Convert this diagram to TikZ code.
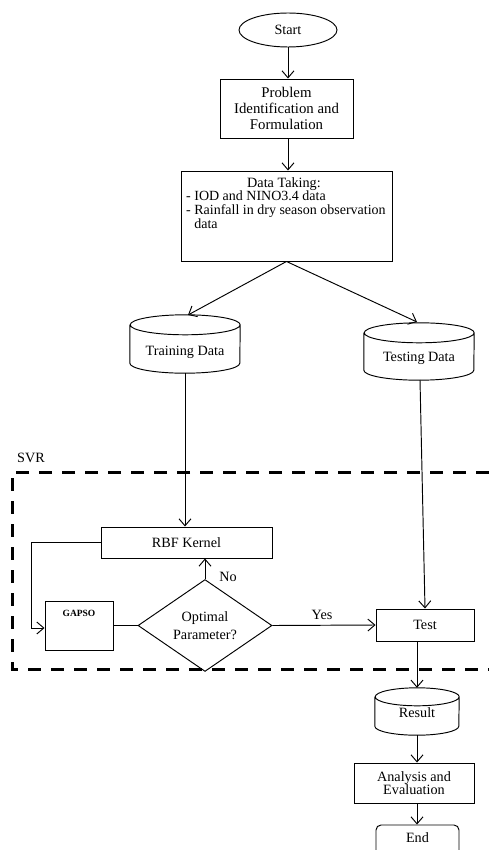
\documentclass[tikz,border=0pt]{standalone}
\usepackage{fontspec}
\setmainfont{Liberation Serif}
\usetikzlibrary{arrows.meta,shapes.geometric}

% outline of a vertical drum (database symbol) around a named rectangle
\newcommand{\drumoutline}[3]{% #1 node name, #2 half width, #3 half height of the end ellipses
  \draw[line] ([yshift=-#3pt]#1.north west) -- ([yshift=#3pt]#1.south west)
    arc[start angle=180,end angle=360,x radius=#2,y radius=#3]
    -- ([yshift=-#3pt]#1.north east)
    arc[start angle=0,end angle=360,x radius=#2,y radius=#3];}

\begin{document}
\begin{tikzpicture}[x=1pt,y=1pt,
  line/.style={line width=0.95pt},
  arr/.style={line, -{Straight Barb[length=7pt,width=12pt,line width=0.95pt]}},
  txt/.style={font=\fontsize{14.2}{16}\selectfont, inner sep=0pt},
  box/.style={line, draw, rectangle, inner sep=0pt},
  drum/.style={rectangle, inner sep=0pt},
]
\useasboundingbox (0,0) rectangle (489,-850);
\clip (0,0) rectangle (489,-850);

% terminal and first steps
\node[line, draw, ellipse, inner sep=0pt, minimum width=98pt, minimum height=34pt,
      txt] (start) at (288,-30) {Start};
\node[box, minimum width=133pt, minimum height=59pt, align=center,
      font=\fontsize{14.8}{16}\selectfont] (prob) at (286.5,-108.5)
      {Problem\\Identification and\\Formulation};
\node[box, minimum width=211pt, minimum height=90pt] (data) at (286.5,-216) {};
\node[txt] (datatitle) at (284,-184) {Data Taking:};
\node[txt, anchor=north west, align=left, font=\fontsize{14}{14}\selectfont]
      (datalist) at (186,-191)
      {- IOD and NINO3.4 data\\- Rainfall in dry season observation\\\phantom{- }data};

% data stores
\node[drum, minimum width=110pt, minimum height=58pt] (train) at (185,-344) {};
\node[txt] (trainlbl) at (185,-352) {Training Data};
\node[drum, minimum width=110pt, minimum height=57pt] (testdata) at (419,-351.5) {};
\node[txt] (testlbl) at (419,-358) {Testing Data};
\drumoutline{train}{55}{10}
\drumoutline{testdata}{55}{10}

% SVR stage
\node[txt] (svr) at (31,-458) {SVR};
\coordinate (svrtr) at (489,-472);
\coordinate (svrbl) at (12,-669);
\draw[line width=3pt, dash pattern=on 13pt off 10pt] (svrtr) -| (svrbl) -- (svrbl -| svrtr);

\node[box, minimum width=171pt, minimum height=31pt, txt] (rbf) at (186.5,-542.5) {RBF Kernel};
\node[box, minimum width=68pt, minimum height=49pt] (gapso) at (79,-625.5) {};
\node[font=\fontsize{9.5}{10}\selectfont\bfseries, inner sep=0pt] (gapsolbl) at (79,-613) {GAPSO};
\node[line, draw, diamond, inner sep=0pt, minimum width=134pt, minimum height=67pt,
      align=center, font=\fontsize{14.2}{18}\selectfont] (opt) at (205,-625.5)
      {Optimal\\Parameter?};
\node[box, minimum width=98pt, minimum height=32pt, txt] (test) at (425,-625) {Test};

% results
\node[drum, minimum width=84pt, minimum height=47pt] (result) at (417,-711.5) {};
\node[txt] (resultlbl) at (417,-713) {Result};
\drumoutline{result}{42}{9}
\node[box, minimum width=120pt, minimum height=40pt, align=center,
      font=\fontsize{14.2}{13.5}\selectfont] (anal) at (414,-783) {Analysis and\\Evaluation};
\node[box, rounded corners=5pt, minimum width=83pt, minimum height=32pt] (finish) at (417.5,-841) {};
\node[txt] (endlbl) at (417.5,-838) {End};

% connectors
\coordinate (loopc) at (31,-628);
\draw[arr] (start.south) -- (start.south |- prob.north);
\draw[arr] (start.south |- prob.south) -- (start.south |- data.north);
\draw[arr] (data.south) -- (188,-315);
\draw[arr] (data.south) -- (417,-322);
\draw[arr] (train.south) -- (train.south |- rbf.north);
\draw[arr] (420,-380) -- (test.north);
\draw[line] (rbf.west) -| (loopc);
\draw[arr] (loopc) -- (loopc -| gapso.west);
\draw[line] (gapso.east) -- (opt.west);
\draw[arr] (opt.north) -- (opt.north |- rbf.south);
\node[txt] (nolbl) at (228,-577) {No};
\draw[arr] (opt.east) -- (test.west);
\node[txt] (yeslbl) at (322,-615) {Yes};
\draw[arr] (result.north |- test.south) -- (result.north);
\draw[arr] (result.south) -- (result.south |- anal.north);
\draw[arr] (result.south |- anal.south) -- (result.south |- finish.north);
\end{tikzpicture}
\end{document}
